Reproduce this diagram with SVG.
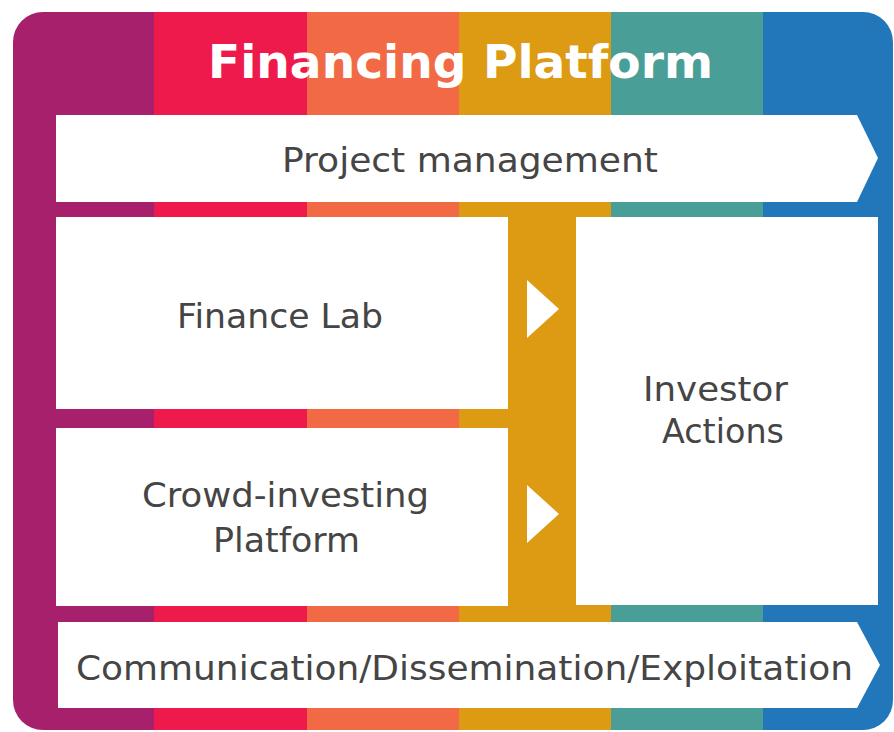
<svg xmlns="http://www.w3.org/2000/svg" width="894" height="732" viewBox="0 0 894 732">
  <defs>
    <clipPath id="bgclip">
      <rect x="13" y="12" width="880" height="718" rx="30" ry="30"/>
    </clipPath>
    <style>
      .box { fill: #ffffff; }
      .lbl { font-family: "DejaVu Sans", Verdana, sans-serif; font-size: 33px; fill: #454545; text-anchor: start; }
      .title { font-family: "DejaVu Sans", Verdana, sans-serif; font-weight: bold; font-size: 47px; fill: #ffffff; }
      .tri { fill: #ffffff; }
    </style>
  </defs>
  <rect width="894" height="732" fill="#ffffff"/>
  <g id="background" clip-path="url(#bgclip)">
    <rect x="0" y="0" width="154" height="732" fill="#a6206c"/>
    <rect x="154" y="0" width="153" height="732" fill="#ee1a4b"/>
    <rect x="307" y="0" width="152" height="732" fill="#f26a45"/>
    <rect x="459" y="0" width="152" height="732" fill="#dd9a13"/>
    <rect x="611" y="0" width="152" height="732" fill="#4a9e98"/>
    <rect x="763" y="0" width="131" height="732" fill="#2277ba"/>
  </g>
  <g id="title">
    <text class="title" x="208" y="78" textLength="505" lengthAdjust="spacingAndGlyphs">Financing Platform</text>
  </g>
  <g id="project-management">
    <polygon class="box" points="56,115 857,115 878,158 857,202 56,202"/>
    <text class="lbl" x="282" y="172" textLength="376" lengthAdjust="spacingAndGlyphs">Project management</text>
  </g>
  <g id="finance-lab">
    <rect class="box" x="56" y="217" width="452" height="192"/>
    <text class="lbl" x="177" y="328" textLength="206" lengthAdjust="spacingAndGlyphs">Finance Lab</text>
  </g>
  <g id="crowd-investing">
    <rect class="box" x="56" y="428" width="452" height="178"/>
    <text class="lbl" x="142" y="507" textLength="287" lengthAdjust="spacingAndGlyphs">Crowd-investing</text>
    <text class="lbl" x="213" y="552" textLength="147" lengthAdjust="spacingAndGlyphs">Platform</text>
  </g>
  <g id="investor-actions">
    <rect class="box" x="576" y="217" width="302" height="388"/>
    <text class="lbl" x="643" y="401" textLength="145" lengthAdjust="spacingAndGlyphs">Investor</text>
    <text class="lbl" x="662" y="443" textLength="122" lengthAdjust="spacingAndGlyphs">Actions</text>
  </g>
  <g id="communication">
    <polygon class="box" points="58,622 857,622 880,665 857,708 58,708"/>
    <text class="lbl" x="76" y="680" textLength="777" lengthAdjust="spacingAndGlyphs">Communication/Dissemination/Exploitation</text>
  </g>
  <g id="connectors">
    <polygon class="tri" points="527,280 559,309 527,338"/>
    <polygon class="tri" points="527,485 559,514 527,543"/>
  </g>
</svg>
